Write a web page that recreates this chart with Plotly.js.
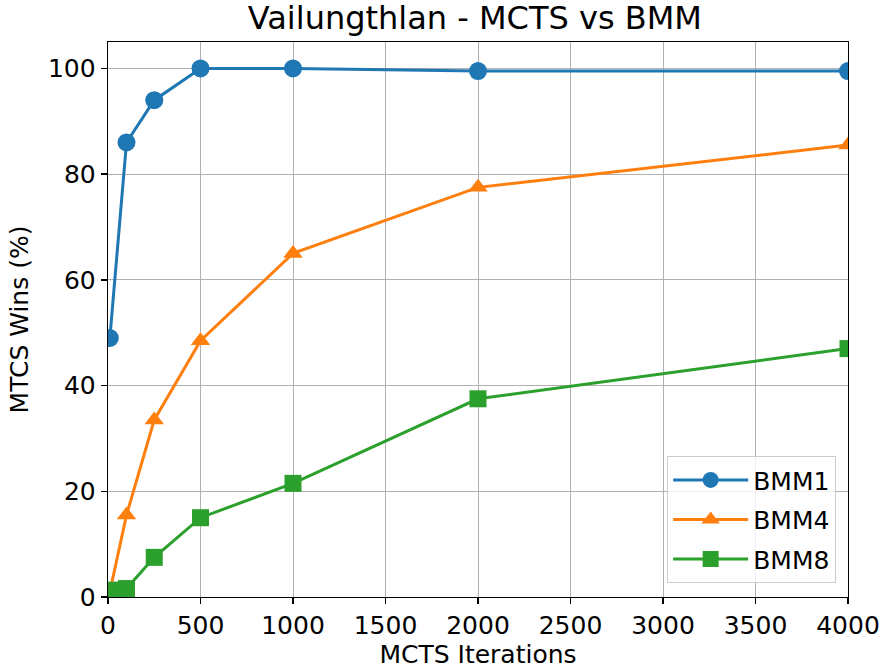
<!DOCTYPE html>
<html>
<head>
<meta charset="utf-8">
<script src="https://cdn.plot.ly/plotly-3.0.1.min.js"></script>
<style>html,body{margin:0;padding:0;background:#fff;}#chart{width:886px;height:672px;}</style>
</head>
<body>
<div id="chart"></div>
<script>
const iterations = [10, 100, 250, 500, 1000, 2000, 4000];
const bmm1 = [49, 86, 94, 100, 100, 99.5, 99.5];
const bmm4 = [1, 15.5, 33.5, 48.5, 65, 77.5, 85.5];
const bmm8 = [1.3, 1.6, 7.5, 15, 21.5, 37.5, 47];
const seriesNames = ['BMM1', 'BMM4', 'BMM8'];
const xTicks = [0, 500, 1000, 1500, 2000, 2500, 3000, 3500, 4000];
const yTicks = [0, 20, 40, 60, 80, 100];

const font = 'DejaVu Sans, sans-serif';
const mk = (y, name, color, symbol, size, grp) => ({
  x: iterations, y: y, name: name, type: 'scatter', mode: 'lines+markers',
  legendgroup: grp,
  line: {color: color, width: 3},
  marker: {color: color, symbol: symbol, size: size},
  cliponaxis: true
});
const data = [
  mk(bmm1, seriesNames[0], '#1f77b4', 'circle', 18, 'g1'),
  mk(bmm4, seriesNames[1], '#ff7f0e', 'triangle-up', 17, 'g2'),
  mk(bmm8, seriesNames[2], '#2ca02c', 'square', 17, 'g3')
];
const axBase = {
  showline: true, linecolor: '#000', linewidth: 1.3, mirror: true,
  ticks: 'outside', ticklen: 6, tickwidth: 1.3, tickcolor: '#000',
  showgrid: true, gridcolor: '#b0b0b0', gridwidth: 1,
  zeroline: false, tickfont: {family: font, size: 25, color: '#000'}
};
const layout = {
  width: 886, height: 672,
  paper_bgcolor: '#fff', plot_bgcolor: '#fff',
  margin: {l: 108, r: 38, t: 42, b: 75},
  title: {text: 'Vailungthlan - MCTS vs BMM', font: {family: font, size: 32, color: '#000'}, x: 0.536, xanchor: 'center', y: 0.99, yanchor: 'top'},
  xaxis: Object.assign({}, axBase, {range: [0, 4000], tickvals: xTicks, ticktext: xTicks.map(String),
    title: {text: 'MCTS Iterations', font: {family: font, size: 25, color: '#000'}, standoff: 4}}),
  yaxis: Object.assign({}, axBase, {range: [0, 105], tickvals: yTicks, ticktext: yTicks.map(String),
    title: {text: 'MTCS Wins (%)', font: {family: font, size: 25, color: '#000'}, standoff: 12}}),
  legend: {x: 0.984, y: 0.025, xanchor: 'right', yanchor: 'bottom',
    bgcolor: 'rgba(255,255,255,0.8)', bordercolor: '#cccccc', borderwidth: 1,
    font: {family: font, size: 25, color: '#000'}, itemwidth: 75, tracegroupgap: 4},
  showlegend: true
};
Plotly.newPlot('chart', data, layout, {displayModeBar: false, staticPlot: true});
</script>
</body>
</html>
